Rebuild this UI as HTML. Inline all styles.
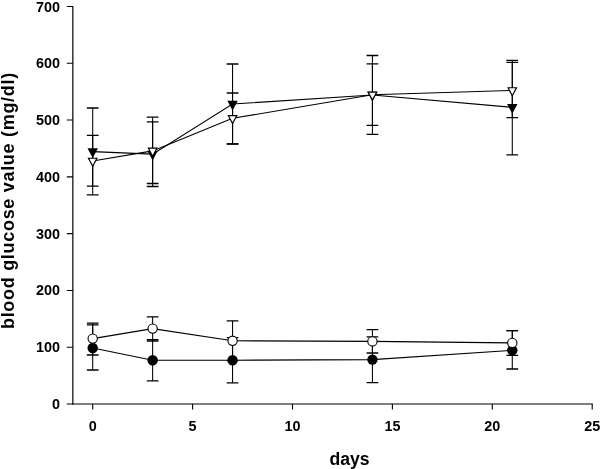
<!DOCTYPE html>
<html lang="en"><head><meta charset="utf-8"><title>blood glucose value (mg/dl) vs days</title>
<style>html,body{margin:0;padding:0;background:#fff;overflow:hidden}svg{display:block}</style>
</head><body>
<svg width="600" height="469" viewBox="0 0 600 469">
<rect width="600" height="469" fill="#fff"/>
<g stroke="#000" stroke-width="1.2" fill="none">
<path d="M72.85 5.95V404.6"/>
<path d="M72.25 404.0H592.8"/>
<path d="M66.8 404H72.85M66.8 347.21H72.85M66.8 290.43H72.85M66.8 233.64H72.85M66.8 176.86H72.85M66.8 120.07H72.85M66.8 63.29H72.85M66.8 6.5H72.85M92.7 404.0V409.6M192.6 404.0V409.6M292.5 404.0V409.6M392.4 404.0V409.6M492.3 404.0V409.6M592.2 404.0V409.6" stroke-width="1.1"/>
</g>
<g stroke="#000" stroke-width="1.1" fill="none">
<path d="M92.7 324.8V370M152.64 339.6V380.9M232.56 337.6V382.8M372.42 336.8V382.6M512.28 330.7V369" stroke-width="1.05"/>
<path d="M86.85 324.8H98.55M86.85 370H98.55M146.79 339.6H158.49M146.79 380.9H158.49M226.71 337.6H238.41M226.71 382.8H238.41M366.57 336.8H378.27M366.57 382.6H378.27M506.43 330.7H518.13M506.43 369H518.13" stroke-width="1.3"/>
<path d="M92.7 348L152.64 360.2L232.56 360.2L372.42 359.6L512.28 350.3"/>
</g>
<circle cx="92.7" cy="348" r="5.2" fill="#000"/>
<circle cx="152.64" cy="360.2" r="5.2" fill="#000"/>
<circle cx="232.56" cy="360.2" r="5.2" fill="#000"/>
<circle cx="372.42" cy="359.6" r="5.2" fill="#000"/>
<circle cx="512.28" cy="350.3" r="5.2" fill="#000"/>
<g stroke="#000" stroke-width="1.1" fill="none">
<path d="M92.7 323.1V355M152.64 316.9V341M232.56 320.9V360.7M372.42 329.7V353M512.28 330.6V355.4" stroke-width="1.05"/>
<path d="M86.85 323.1H98.55M86.85 355H98.55M146.79 316.9H158.49M146.79 341H158.49M226.71 320.9H238.41M226.71 360.7H238.41M366.57 329.7H378.27M366.57 353H378.27M506.43 330.6H518.13M506.43 355.4H518.13" stroke-width="1.3"/>
<path d="M92.7 338.6L152.64 328.6L232.56 340.8L372.42 341.4L512.28 342.9"/>
</g>
<circle cx="92.7" cy="338.6" r="4.65" fill="#fff" stroke="#000" stroke-width="1.1"/>
<circle cx="152.64" cy="328.6" r="4.65" fill="#fff" stroke="#000" stroke-width="1.1"/>
<circle cx="232.56" cy="340.8" r="4.65" fill="#fff" stroke="#000" stroke-width="1.1"/>
<circle cx="372.42" cy="341.4" r="4.65" fill="#fff" stroke="#000" stroke-width="1.1"/>
<circle cx="512.28" cy="342.9" r="4.65" fill="#fff" stroke="#000" stroke-width="1.1"/>
<g stroke="#000" stroke-width="1.1" fill="none">
<path d="M92.7 108V194.8M152.64 121.8V186.5M232.56 64V144M372.42 55.5V134.4M512.28 60.3V154.9" stroke-width="1.05"/>
<path d="M86.85 108H98.55M86.85 194.8H98.55M146.79 121.8H158.49M146.79 186.5H158.49M226.71 64H238.41M226.71 144H238.41M366.57 55.5H378.27M366.57 134.4H378.27M506.43 60.3H518.13M506.43 154.9H518.13" stroke-width="1.3"/>
<path d="M92.7 151.6L152.64 154.1L232.56 104L372.42 95L512.28 107.3"/>
</g>
<path d="M87.5 148.3H97.9L92.7 158.1Z" fill="#000"/>
<path d="M147.44 150.8H157.84L152.64 160.6Z" fill="#000"/>
<path d="M227.36 100.7H237.76L232.56 110.5Z" fill="#000"/>
<path d="M367.22 91.7H377.62L372.42 101.5Z" fill="#000"/>
<path d="M507.08 104H517.48L512.28 113.8Z" fill="#000"/>
<g stroke="#000" stroke-width="1.1" fill="none">
<path d="M92.7 135.3V186.2M152.64 117.2V183.5M232.56 93V143.9M372.42 63.9V125.3M512.28 62.3V117.7" stroke-width="1.05"/>
<path d="M86.85 135.3H98.55M86.85 186.2H98.55M146.79 117.2H158.49M146.79 183.5H158.49M226.71 93H238.41M226.71 143.9H238.41M366.57 63.9H378.27M366.57 125.3H378.27M506.43 62.3H518.13M506.43 117.7H518.13" stroke-width="1.3"/>
<path d="M92.7 161L152.64 150.9L232.56 118.3L372.42 94.8L512.28 90.5"/>
</g>
<path d="M87.5 157.7H97.9L92.7 167.5Z" fill="#000"/>
<path d="M89.41 158.85L95.99 158.85L92.7 165.05Z" fill="#fff"/>
<path d="M147.44 147.6H157.84L152.64 157.4Z" fill="#000"/>
<path d="M149.35 148.75L155.93 148.75L152.64 154.95Z" fill="#fff"/>
<path d="M227.36 115H237.76L232.56 124.8Z" fill="#000"/>
<path d="M229.27 116.15L235.85 116.15L232.56 122.35Z" fill="#fff"/>
<path d="M367.22 91.5H377.62L372.42 101.3Z" fill="#000"/>
<path d="M369.13 92.65L375.71 92.65L372.42 98.85Z" fill="#fff"/>
<path d="M507.08 87.2H517.48L512.28 97Z" fill="#000"/>
<path d="M508.99 88.35L515.57 88.35L512.28 94.55Z" fill="#fff"/>
<g font-family="Liberation Sans, Arial, Helvetica, sans-serif" font-weight="bold" fill="#000">
<text transform="translate(60.1 409.05) scale(1 1)" font-size="14.4" text-anchor="end">0</text>
<text transform="translate(60.1 352.26) scale(1 1)" font-size="14.4" text-anchor="end">100</text>
<text transform="translate(60.1 295.48) scale(1 1)" font-size="14.4" text-anchor="end">200</text>
<text transform="translate(60.1 238.69) scale(1 1)" font-size="14.4" text-anchor="end">300</text>
<text transform="translate(60.1 181.91) scale(1 1)" font-size="14.4" text-anchor="end">400</text>
<text transform="translate(60.1 125.12) scale(1 1)" font-size="14.4" text-anchor="end">500</text>
<text transform="translate(60.1 68.34) scale(1 1)" font-size="14.4" text-anchor="end">600</text>
<text transform="translate(60.1 11.55) scale(1 1)" font-size="14.4" text-anchor="end">700</text>
<text transform="translate(92.7 431.2) scale(1 1)" font-size="14.4" text-anchor="middle">0</text>
<text transform="translate(192.6 431.2) scale(1 1)" font-size="14.4" text-anchor="middle">5</text>
<text transform="translate(292.5 431.2) scale(1 1)" font-size="14.4" text-anchor="middle">10</text>
<text transform="translate(392.4 431.2) scale(1 1)" font-size="14.4" text-anchor="middle">15</text>
<text transform="translate(492.3 431.2) scale(1 1)" font-size="14.4" text-anchor="middle">20</text>
<text transform="translate(592.2 431.2) scale(1 1)" font-size="14.4" text-anchor="middle">25</text>
<text transform="translate(349.5 465.2)" font-size="17.6" text-anchor="middle">days</text>
<text transform="translate(14.3 200.6) rotate(-90)" font-size="18" letter-spacing="0.7" text-anchor="middle">blood glucose value (mg/dl)</text>
</g>
</svg>
</body></html>
